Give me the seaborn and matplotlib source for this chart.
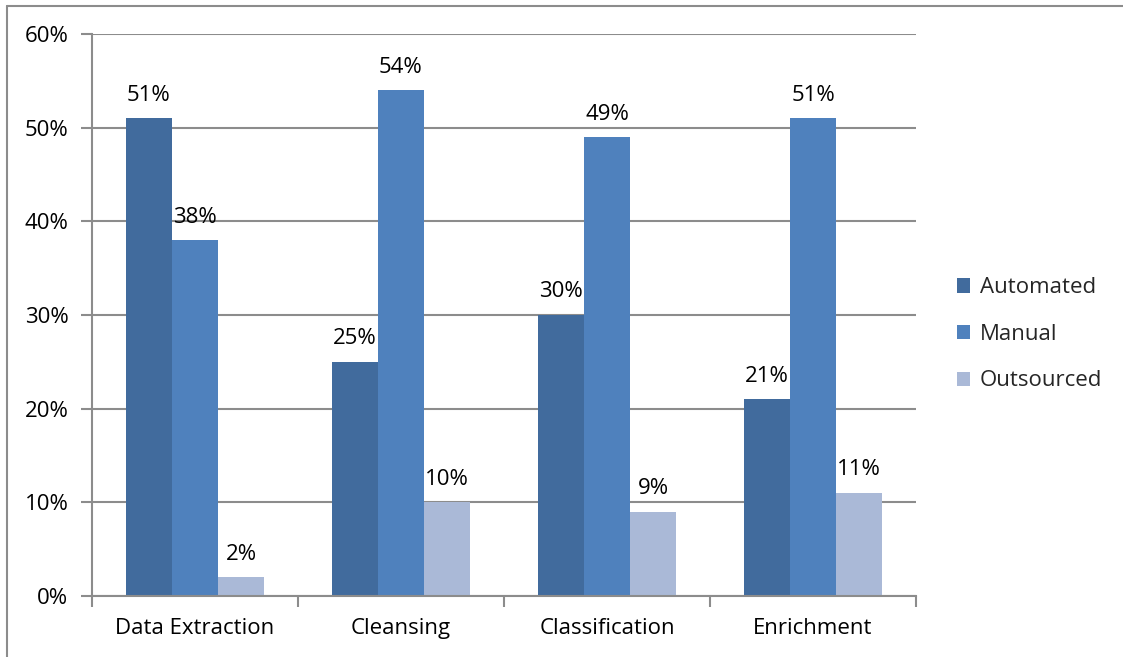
import matplotlib
matplotlib.use("Agg")
import matplotlib.pyplot as plt
import seaborn as sns
import pandas as pd
from matplotlib.lines import Line2D
from matplotlib.ticker import MultipleLocator, FuncFormatter

categories = ["Data Extraction", "Cleansing", "Classification", "Enrichment"]
series = ["Automated", "Manual", "Outsourced"]
automated = [51, 25, 30, 21]
manual = [38, 54, 49, 51]
outsourced = [2, 10, 9, 11]
colors = ["#416b9d", "#4f81bd", "#aab9d7"]

rows = []
for s, vals in zip(series, [automated, manual, outsourced]):
    for c, v in zip(categories, vals):
        rows.append({"category": c, "series": s, "value": v})
df = pd.DataFrame(rows)

sns.set_theme(style="white")
plt.rcParams['font.family'] = ['Open Sans', 'DejaVu Sans']
FS = 16

fig = plt.figure(figsize=(11.23, 6.57), dpi=100)
ax = fig.add_axes([0.0819, 0.0929, 0.7338, 0.8553])

sns.barplot(data=df, x="category", y="value", hue="series", order=categories,
            hue_order=series, palette=colors, width=0.67, gap=0, ax=ax,
            saturation=1, legend=True, errorbar=None, edgecolor="none", linewidth=0)

for cont in ax.containers:
    ax.bar_label(cont, labels=[f"{v:.0f}%" for v in cont.datavalues], padding=9,
                 fontsize=FS, color="black")

ax.set_ylim(0, 60)
ax.set_xlim(-0.5, 3.5)
ax.yaxis.set_major_locator(MultipleLocator(10))
ax.yaxis.set_major_formatter(FuncFormatter(lambda v, p: f"{v:.0f}%"))
ax.grid(axis="y", color="#8c8c8c", linewidth=1.5)
ax.set_axisbelow(True)
for side in ["top", "right"]:
    ax.spines[side].set_visible(False)
for side in ["left", "bottom"]:
    ax.spines[side].set_color("#8c8c8c")
    ax.spines[side].set_linewidth(1.5)
ax.set_xlabel("")
ax.set_ylabel("")
ax.tick_params(axis="y", which="both", left=True, length=8, width=1.5, color="#8c8c8c",
               labelsize=FS, pad=9, labelcolor="black")
ax.set_xticks(range(len(categories)))
ax.set_xticklabels(categories)
ax.tick_params(axis="x", bottom=False, labelsize=FS, pad=10, labelcolor="black")
ax.set_xticks([-0.5, 0.5, 1.5, 2.5, 3.5], minor=True)
ax.tick_params(axis="x", which="minor", bottom=True, length=8, width=1.5, color="#8c8c8c")

leg = ax.get_legend()
handles, labels = ax.get_legend_handles_labels()
leg.remove()
fig.legend(handles, labels, loc="center left", bbox_to_anchor=(0.834, 0.491),
           frameon=False, fontsize=FS, handlelength=0.6, handleheight=0.6,
           handletextpad=0.45, labelspacing=1.15)

fig.add_artist(Line2D([0.006, 1.0], [0.991, 0.991], color="#8c8c8c", linewidth=1.5,
                      transform=fig.transFigure))
fig.add_artist(Line2D([0.006, 0.006], [0.0, 0.991], color="#8c8c8c", linewidth=1.5,
                      transform=fig.transFigure))

fig.savefig("out.png", dpi=100, facecolor="white")
